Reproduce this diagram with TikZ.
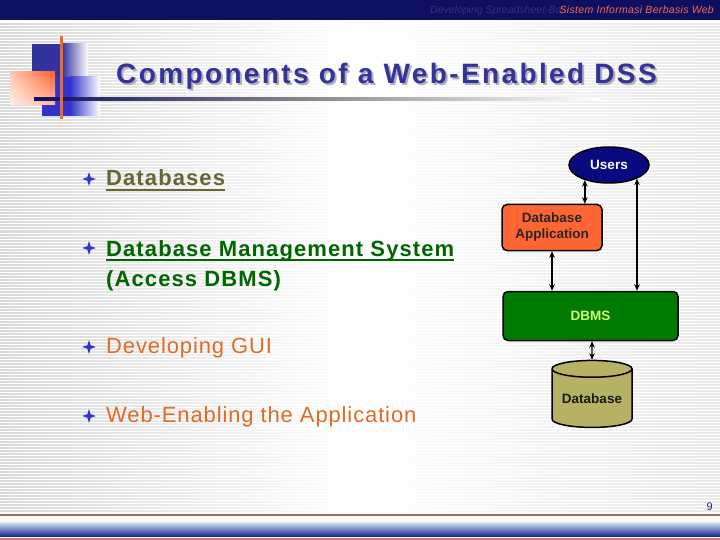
\documentclass[tikz,border=0pt]{standalone}
\usepackage{fontspec}
\setmainfont{Liberation Sans}
\usetikzlibrary{shapes.geometric,arrows.meta,calc,shadings}
\definecolor{barnavy}{RGB}{14,14,98}
\definecolor{fadetext}{RGB}{52,52,120}
\definecolor{salmon}{RGB}{255,105,70}
\definecolor{titleblue}{RGB}{51,51,153}
\definecolor{shadowgray}{RGB}{175,175,185}
\definecolor{starblue}{RGB}{51,51,204}
\definecolor{olivetext}{RGB}{102,102,51}
\definecolor{greentext}{RGB}{0,102,0}
\definecolor{orangetext}{RGB}{222,108,36}
\definecolor{usersfill}{RGB}{10,10,128}
\definecolor{appfill}{RGB}{255,102,51}
\definecolor{dbmsfill}{RGB}{0,122,0}
\definecolor{dbmstext}{RGB}{210,255,110}
\definecolor{cylfill}{RGB}{182,178,100}
\definecolor{decoblueA}{RGB}{51,51,160}
\definecolor{decoblueB}{RGB}{51,51,204}
\definecolor{decoorange}{RGB}{255,95,40}
\definecolor{decoUL}{RGB}{255,200,180}
\definecolor{decoLR}{RGB}{255,185,160}
\definecolor{decoLL}{RGB}{255,238,230}
\definecolor{vline}{RGB}{230,110,40}
\definecolor{brownline}{RGB}{150,112,92}
\definecolor{cream}{RGB}{255,250,235}
\definecolor{bandlight}{RGB}{215,228,250}
\definecolor{banddark}{RGB}{22,40,135}
\definecolor{pinkline}{RGB}{205,125,115}
\definecolor{pagenum}{RGB}{40,40,110}
\newcommand{\shadowtext}[1]{\rlap{\kern2pt\raisebox{-2pt}{\color{shadowgray}#1}}#1}
\tikzset{
  bulletbold/.style={anchor=base west, inner sep=0pt, font=\fontsize{22}{26}\selectfont\bfseries\addfontfeature{LetterSpace=5}},
  bulletreg/.style={anchor=base west, inner sep=0pt, font=\fontsize{22}{26}\selectfont\addfontfeature{LetterSpace=4}},
  bstar/.pic={\fill[starblue] (0,-7) -- (1.7,-1.7) -- (7,0) -- (1.7,1.7) -- (0,7) -- (-1.7,1.7) -- (-7,0) -- (-1.7,-1.7) -- cycle;},
  diag/.style={draw=black, line width=1.5pt, font=\fontsize{13.5}{16}\selectfont\bfseries, align=center},
  biarrow/.style={{Stealth[length=6.5pt,width=5.5pt]}-{Stealth[length=6.5pt,width=5.5pt]}, line width=1.4pt},
  uline/.style={line width=1.6pt}
}
\begin{document}
\begin{tikzpicture}[x=1pt,y=-1pt]
\useasboundingbox (0,0) rectangle (720,540);
\fill[white] (0,0) rectangle (720,540);
% background stripes
\foreach \yy in {24,27,...,510}{
  \shade[left color=black!15, right color=white] (0,\yy) rectangle (360,\yy+1);
  \shade[left color=white, right color=black!9] (360,\yy) rectangle (720,\yy+1);
}
% top bar
\fill[barnavy] (0,0) rectangle (720,20);
\node[anchor=base west, inner sep=0pt, text=fadetext, font=\fontsize{10.5}{12}\selectfont\itshape] (fade) at (430,14) {Developing Spreadsheet-Ba};
\node[anchor=base east, inner sep=0pt, text=salmon, font=\fontsize{10.5}{12}\selectfont\itshape\addfontfeature{LetterSpace=3}] (head) at (714,14) {Sistem Informasi Berbasis Web};
% decoration
\fill[decoblueA] (32,44) rectangle (62,77);
\shade[left color=decoblueA, right color=white] (62,44) rectangle (88,77);
\fill[decoblueB] (42,77) rectangle (70,116);
\shade[left color=decoblueB, right color=white] (70,77) rectangle (100,116);
\shade[upper right=decoorange, upper left=decoUL, lower right=decoLR, lower left=decoLL] (10,72) rectangle (55,105);
\shade[left color=barnavy, right color=white, middle color=black!45] (34,98) rectangle (600,100.5);
\fill[vline] (60,36) rectangle (62.5,119);
% title
\node[anchor=base west, inner sep=0pt, text=titleblue, font=\fontsize{28}{32}\selectfont\bfseries\addfontfeature{LetterSpace=8.5}] (title) at (116,84) {\shadowtext{Components of a Web-Enabled DSS}};
% bullets
\pic at (89,179) {bstar};
\node[bulletbold, text=olivetext] (b1) at (106,186) {Databases};
\draw[uline, olivetext] ($(b1.base west)+(0,4)$) -- ($(b1.base east)+(0,4)$);
\pic at (89,248) {bstar};
\node[bulletbold, text=greentext] (b2) at (106,256) {Database Management System};
\draw[uline, greentext] ($(b2.base west)+(0,4)$) -- ($(b2.base east)+(0,4)$);
\node[bulletbold, text=greentext] (b2b) at (106,286) {(Access DBMS)};
\pic at (89,347) {bstar};
\node[bulletreg, text=orangetext] (b3) at (106,353) {Developing GUI};
\pic at (89,416) {bstar};
\node[bulletreg, text=orangetext] (b4) at (106,422) {Web-Enabling the Application};
% diagram
\node[diag, ellipse, fill=usersfill, text=white, minimum width=80pt, minimum height=36pt, inner sep=0pt] (users) at (609,165) {Users};
\node[diag, rectangle, rounded corners=5pt, fill=appfill, text=black!85, minimum width=100pt, minimum height=46pt, inner sep=0pt] (dbapp) at (552,227.5) {Database\\Application};
\node[diag, rectangle, rounded corners=5pt, fill=dbmsfill, text=dbmstext, minimum width=175pt, minimum height=49pt, inner sep=0pt] (dbms) at (590.5,316) {DBMS};
\node[diag, cylinder, shape border rotate=90, aspect=0.28, fill=cylfill, text=black!90, minimum width=80pt, minimum height=67pt, inner sep=0pt] (db) at (592,398.5) {Database};
\draw[biarrow] (users.212) -- (users.212 |- dbapp.north);
\draw[biarrow] (users.334) -- (users.334 |- dbms.north);
\draw[biarrow] (dbapp.south) -- (dbapp.south |- dbms.north);
\draw[biarrow] (dbms.south -| db.center) -- (db.north);
% bottom
\node[anchor=base east, inner sep=0pt, text=pagenum, font=\fontsize{11}{12}\selectfont] (pg) at (713,510) {9};
\fill[brownline] (0,514) rectangle (720,516);
\fill[cream] (0,516) rectangle (720,522);
\shade[top color=bandlight, bottom color=banddark] (0,522) rectangle (720,536.5);
\fill[pinkline] (0,537.5) rectangle (720,540);
\end{tikzpicture}
\end{document}
